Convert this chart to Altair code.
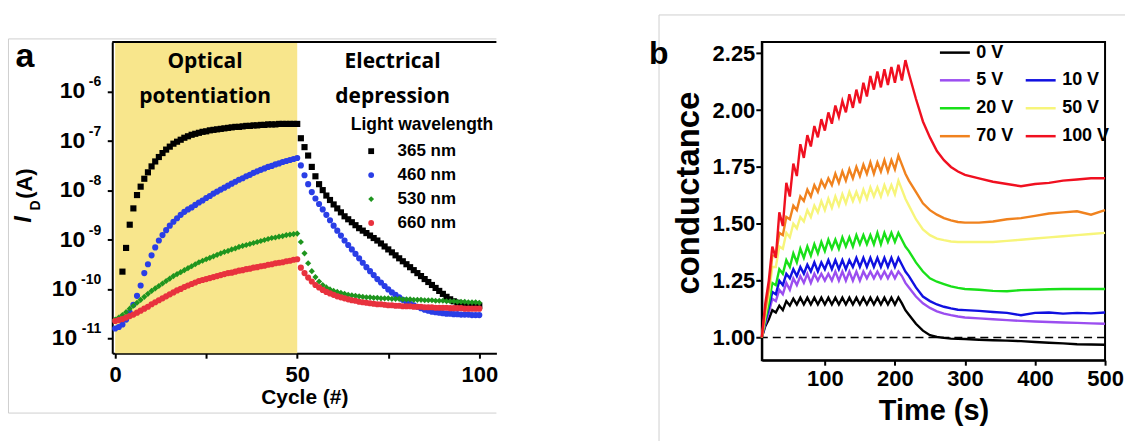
import altair as alt
import pandas as pd

# ---------------- panel a : I_D (log10 A) vs cycle ----------------
cycles = list(range(0, 101))
cycles_365 = list(range(2, 101))

log_365 = [-9.65, -9.17, -8.70, -8.37, -8.10, -7.93, -7.77, -7.64, -7.52, -7.42,
           -7.33, -7.25, -7.18, -7.12, -7.06, -7.02, -6.98, -6.94, -6.91, -6.88,
           -6.86, -6.84, -6.82, -6.81, -6.79, -6.78, -6.77, -6.76, -6.75, -6.74,
           -6.73, -6.72, -6.72, -6.71, -6.70, -6.70, -6.69, -6.69, -6.68, -6.68,
           -6.67, -6.67, -6.67, -6.66, -6.66, -6.66, -6.66, -6.66, -6.66,
           -6.95, -7.13, -7.30, -7.53, -7.72, -7.88, -8.00, -8.11, -8.20, -8.29,
           -8.37, -8.45, -8.53, -8.59, -8.65, -8.71, -8.77, -8.82, -8.87, -8.92,
           -8.97, -9.02, -9.08, -9.14, -9.20, -9.26, -9.32, -9.38, -9.44, -9.50,
           -9.56, -9.62, -9.68, -9.74, -9.80, -9.86, -9.92, -9.98, -10.04, -10.10,
           -10.16, -10.21, -10.25, -10.28, -10.30, -10.31, -10.32, -10.33, -10.33, -10.34]

log_460 = [-10.80, -10.77, -10.72, -10.62, -10.48, -10.32, -10.14, -9.93, -9.68, -9.50,
           -9.32, -9.16, -9.02, -8.91, -8.81, -8.72, -8.64, -8.57, -8.50, -8.44,
           -8.39, -8.35, -8.30, -8.25, -8.21, -8.16, -8.12, -8.07, -8.03, -7.99,
           -7.95, -7.91, -7.87, -7.83, -7.79, -7.76, -7.72, -7.69, -7.65, -7.62,
           -7.59, -7.56, -7.53, -7.51, -7.48, -7.46, -7.43, -7.41, -7.39, -7.37,
           -7.35,
           -7.50, -7.70, -7.88, -8.04, -8.17, -8.28, -8.39, -8.50, -8.61, -8.72,
           -8.82, -8.92, -9.02, -9.11, -9.20, -9.29, -9.38, -9.47, -9.56, -9.64,
           -9.72, -9.80, -9.87, -9.94, -10.01, -10.07, -10.12, -10.17, -10.22, -10.26,
           -10.30, -10.33, -10.36, -10.39, -10.42, -10.44, -10.46, -10.47, -10.48, -10.49,
           -10.50, -10.50, -10.51, -10.51, -10.52, -10.52, -10.52, -10.53, -10.53, -10.53]

log_530 = [-10.62, -10.58, -10.53, -10.47, -10.40, -10.34, -10.28, -10.22, -10.16, -10.10,
           -10.04, -9.99, -9.94, -9.89, -9.84, -9.79, -9.74, -9.70, -9.66, -9.62,
           -9.58, -9.54, -9.50, -9.46, -9.43, -9.40, -9.37, -9.34, -9.31, -9.28,
           -9.25, -9.23, -9.20, -9.18, -9.15, -9.13, -9.11, -9.09, -9.07, -9.05,
           -9.03, -9.01, -8.99, -8.97, -8.96, -8.94, -8.93, -8.91, -8.90, -8.89,
           -8.88,
           -9.05, -9.28, -9.48, -9.64, -9.76, -9.85, -9.92, -9.97, -10.01, -10.04,
           -10.06, -10.08, -10.10, -10.12, -10.13, -10.14, -10.15, -10.16, -10.17, -10.17,
           -10.18, -10.18, -10.19, -10.19, -10.19, -10.20, -10.20, -10.20, -10.21, -10.21,
           -10.21, -10.22, -10.22, -10.22, -10.23, -10.23, -10.23, -10.24, -10.24, -10.24,
           -10.25, -10.25, -10.25, -10.26, -10.26, -10.26, -10.27, -10.27, -10.27, -10.28]

log_660 = [-10.65, -10.63, -10.61, -10.58, -10.55, -10.52, -10.48, -10.44, -10.40, -10.36,
           -10.31, -10.27, -10.23, -10.19, -10.15, -10.11, -10.07, -10.03, -10.00, -9.96,
           -9.93, -9.90, -9.87, -9.84, -9.82, -9.80, -9.78, -9.76, -9.74, -9.72,
           -9.70, -9.68, -9.67, -9.65, -9.63, -9.62, -9.60, -9.59, -9.57, -9.56,
           -9.54, -9.53, -9.51, -9.50, -9.48, -9.47, -9.46, -9.44, -9.43, -9.41,
           -9.40,
           -9.57, -9.68, -9.77, -9.85, -9.92, -9.97, -10.02, -10.06, -10.09, -10.12,
           -10.15, -10.17, -10.19, -10.21, -10.23, -10.24, -10.26, -10.27, -10.28, -10.29,
           -10.30, -10.31, -10.31, -10.32, -10.33, -10.33, -10.34, -10.34, -10.35, -10.35,
           -10.35, -10.36, -10.36, -10.36, -10.37, -10.37, -10.37, -10.38, -10.38, -10.38,
           -10.38, -10.39, -10.39, -10.39, -10.39, -10.40, -10.40, -10.40, -10.40, -10.40]

assert len(log_365) == len(cycles_365)
assert len(log_460) == len(cycles) and len(log_530) == len(cycles) and len(log_660) == len(cycles)

wavelengths = ["365 nm", "460 nm", "530 nm", "660 nm"]
wl_colors = ["#000000", "#2a3ee6", "#1e951e", "#e8323e"]
wl_shapes = ["square", "circle", "diamond", "circle"]

phase_start = [0]
phase_end = [50]
tick_exponents = [-11, -10, -9, -8, -7, -6]

# ---------------- panel b : conductance vs time ----------------
rise_t = [10, 15, 20, 25, 30, 35, 40, 45, 50, 55, 60, 65, 70, 75, 80, 85, 90, 95, 100, 105,
          110, 115, 120, 125, 130, 135, 140, 145, 150, 155, 160, 165, 170, 175, 180, 185, 190,
          195, 200, 205, 210, 215]
decay_t = [220, 230, 240, 250, 260, 270, 280, 290, 300, 320, 340, 360, 380, 400, 420, 440,
           460, 480, 500]
time_s = rise_t + decay_t

g_0V = [1.00, 1.05, 1.08, 1.12, 1.11, 1.14, 1.12, 1.16, 1.14, 1.17, 1.145, 1.175, 1.145, 1.175,
        1.145, 1.175, 1.145, 1.175, 1.145, 1.175, 1.145, 1.175, 1.145, 1.175, 1.145, 1.175,
        1.145, 1.175, 1.145, 1.175, 1.145, 1.175, 1.145, 1.175, 1.145, 1.175, 1.145, 1.175,
        1.145, 1.176, 1.15, 1.12,
        1.10, 1.06, 1.03, 1.01, 1.002, 0.998, 0.995, 0.994, 0.993, 0.99, 0.988, 0.986, 0.984,
        0.98, 0.977, 0.974, 0.97, 0.969, 0.968]
g_5V = [1.00, 1.06, 1.11, 1.17, 1.16, 1.21, 1.19, 1.24, 1.21, 1.26, 1.23, 1.27, 1.24, 1.28,
        1.24, 1.28, 1.25, 1.28, 1.25, 1.28, 1.25, 1.29, 1.25, 1.29, 1.25, 1.29, 1.25, 1.29,
        1.25, 1.29, 1.26, 1.29, 1.26, 1.29, 1.26, 1.29, 1.26, 1.29, 1.26, 1.29, 1.27, 1.24,
        1.22, 1.18, 1.15, 1.13, 1.115, 1.105, 1.098, 1.092, 1.088, 1.084, 1.08, 1.076, 1.073,
        1.07, 1.068, 1.066, 1.064, 1.062, 1.06]
g_10V = [1.00, 1.07, 1.13, 1.20, 1.19, 1.25, 1.23, 1.28, 1.26, 1.30, 1.27, 1.31, 1.28, 1.32,
         1.29, 1.33, 1.29, 1.33, 1.30, 1.34, 1.30, 1.34, 1.30, 1.34, 1.30, 1.34, 1.31, 1.35,
         1.31, 1.35, 1.31, 1.35, 1.31, 1.35, 1.31, 1.35, 1.31, 1.35, 1.31, 1.35, 1.32, 1.29,
         1.27, 1.22, 1.18, 1.16, 1.145, 1.135, 1.128, 1.122, 1.12, 1.117, 1.112, 1.108, 1.098,
         1.108, 1.11, 1.105, 1.108, 1.106, 1.11]
g_20V = [1.00, 1.08, 1.15, 1.24, 1.23, 1.30, 1.28, 1.34, 1.31, 1.37, 1.33, 1.39, 1.35, 1.40,
         1.36, 1.41, 1.37, 1.42, 1.38, 1.43, 1.39, 1.43, 1.39, 1.44, 1.40, 1.44, 1.40, 1.45,
         1.41, 1.45, 1.41, 1.45, 1.41, 1.46, 1.41, 1.46, 1.42, 1.46, 1.42, 1.46, 1.43, 1.40,
         1.38, 1.33, 1.29, 1.26, 1.245, 1.235, 1.225, 1.218, 1.213, 1.21, 1.205, 1.203, 1.208,
         1.21, 1.212, 1.213, 1.213, 1.213, 1.213]
g_50V = [1.00, 1.10, 1.19, 1.31, 1.31, 1.40, 1.39, 1.46, 1.44, 1.50, 1.48, 1.53, 1.51, 1.56,
         1.53, 1.58, 1.55, 1.60, 1.56, 1.61, 1.57, 1.62, 1.58, 1.63, 1.59, 1.64, 1.60, 1.64,
         1.60, 1.65, 1.61, 1.66, 1.62, 1.66, 1.62, 1.67, 1.63, 1.67, 1.63, 1.69, 1.65, 1.61,
         1.58, 1.52, 1.475, 1.45, 1.435, 1.428, 1.422, 1.42, 1.42, 1.42, 1.42, 1.425, 1.43,
         1.435, 1.44, 1.445, 1.45, 1.455, 1.46]
g_70V = [1.00, 1.12, 1.22, 1.36, 1.36, 1.46, 1.45, 1.53, 1.52, 1.58, 1.56, 1.62, 1.60, 1.65,
         1.62, 1.67, 1.64, 1.69, 1.66, 1.70, 1.67, 1.72, 1.68, 1.73, 1.69, 1.74, 1.70, 1.75,
         1.71, 1.76, 1.72, 1.77, 1.72, 1.77, 1.73, 1.78, 1.73, 1.78, 1.74, 1.80, 1.76, 1.72,
         1.69, 1.64, 1.59, 1.56, 1.54, 1.525, 1.515, 1.508, 1.505, 1.505, 1.51, 1.52, 1.525,
         1.535, 1.545, 1.55, 1.555, 1.54, 1.56]
g_100V = [1.00, 1.15, 1.25, 1.40, 1.35, 1.55, 1.49, 1.68, 1.62, 1.765, 1.71, 1.85, 1.79, 1.89,
          1.84, 1.93, 1.88, 1.96, 1.91, 1.99, 1.94, 2.02, 1.97, 2.04, 1.99, 2.07, 2.01, 2.09,
          2.03, 2.12, 2.06, 2.15, 2.09, 2.17, 2.10, 2.18, 2.11, 2.19, 2.12, 2.20, 2.13, 2.22,
          2.16, 2.05, 1.95, 1.88, 1.82, 1.78, 1.75, 1.73, 1.715, 1.70, 1.685, 1.675, 1.665,
          1.675, 1.68, 1.69, 1.695, 1.70, 1.70]

voltages = ["0 V", "5 V", "10 V", "20 V", "50 V", "70 V", "100 V"]
series_b = [g_0V, g_5V, g_10V, g_20V, g_50V, g_70V, g_100V]
for s in series_b:
    assert len(s) == len(time_s), len(s)
# legend is filled column by column: left column 0,5,20,70 V ; right column (blank),10,50,100 V
legend_domain = ["0 V", "5 V", "20 V", "70 V", " ", "10 V", "50 V", "100 V"]
legend_range = ["#000000", "#9b4ef0", "#19e019", "#f0821e", "#ffffff", "#1010e0", "#f7f57a",
                "#f01020"]
reference_level = [1.0]

# ---------------- data frames ----------------
rows = []
for name, cyc, logs in [("365 nm", cycles_365, log_365), ("460 nm", cycles, log_460),
                        ("530 nm", cycles, log_530), ("660 nm", cycles, log_660)]:
    for c, v in zip(cyc, logs):
        rows.append({"cycle": c, "current": 10 ** v, "wl": name})
df_a = pd.DataFrame(rows)
phase_df = pd.DataFrame({"start": phase_start, "end": phase_end})
ticks_df = pd.DataFrame({"value": [10.0 ** e for e in tick_exponents],
                         "sup": [str(e) for e in tick_exponents],
                         "ndig": [len(str(abs(e))) for e in tick_exponents]})

rows_b = []
for name, vals in zip(voltages, series_b):
    for t, g in zip(time_s, vals):
        rows_b.append({"time": t, "g": g, "V": name})
df_b = pd.DataFrame(rows_b)
ref_df = pd.DataFrame({"level": reference_level})
one_df = pd.DataFrame({"k": [0]})

FONT = "Liberation Sans"
PHASE_FONT = "Open Sans"
FRAME_GREY = "#cfcfcf"

# ---------------- panel a chart ----------------
A_W, A_H = 385, 312
xa = alt.Scale(domain=[-0.8, 104.7], nice=False, zero=False)
ya = alt.Scale(type="log", domain=[5e-12, 1e-5], nice=False)

ax_a_x = alt.Axis(values=[0, 25, 50, 75, 100],
                  labelExpr="datum.value % 50 == 0 ? datum.label : ''",
                  title="Cycle (#)", titleFontSize=21, labelFontSize=22,
                  tickSize=5, tickWidth=2, domainWidth=2, labelPadding=6,
                  titleY=44, titleBaseline="middle", labelFlush=False, grid=False)
ax_a_y = alt.Axis(values=[1e-11, 1e-10, 1e-9, 1e-8, 1e-7, 1e-6], labels=False,
                  title=None, tickSize=5, tickWidth=2, domainWidth=2, grid=False)

shade = alt.Chart(phase_df).mark_rect(color="#f8e68c").encode(
    x=alt.X("start:Q", scale=xa, axis=ax_a_x), x2="end:Q",
    y=alt.value(0), y2=alt.value(A_H))

top_border = alt.Chart(one_df).mark_rule(color="black", strokeWidth=2).encode(
    x=alt.value(0), x2=alt.value(A_W), y=alt.value(0))

# light grey frame of the original figure panel
grey_a = [
    alt.Chart(one_df).mark_rule(color=FRAME_GREY, strokeWidth=1).encode(
        x=alt.value(-104), y=alt.value(-3), y2=alt.value(372)),
    alt.Chart(one_df).mark_rule(color=FRAME_GREY, strokeWidth=1).encode(
        x=alt.value(-104), x2=alt.value(A_W), y=alt.value(-3)),
    alt.Chart(one_df).mark_rule(color=FRAME_GREY, strokeWidth=1).encode(
        x=alt.value(-104), x2=alt.value(A_W), y=alt.value(372)),
]

leg_a = alt.Legend(title=None, orient="none", legendX=251, legendY=101, padding=0,
                   labelFont=FONT, labelFontSize=17, labelFontWeight="bold",
                   labelColor="black", symbolSize=34, rowPadding=6, labelOffset=18)

points = alt.Chart(df_a).mark_point(filled=True, size=38, opacity=1).encode(
    x=alt.X("cycle:Q", scale=xa, axis=ax_a_x),
    y=alt.Y("current:Q", scale=ya, axis=ax_a_y),
    color=alt.Color("wl:N", scale=alt.Scale(domain=wavelengths, range=wl_colors), legend=leg_a),
    shape=alt.Shape("wl:N", scale=alt.Scale(domain=wavelengths, range=wl_shapes), legend=leg_a),
)

# y tick labels "10" with superscript exponent
tick_tens_1 = alt.Chart(ticks_df).transform_filter("datum.ndig == 1").mark_text(
    font=FONT, fontSize=23, fontWeight="bold", align="right", baseline="middle",
    color="black").encode(text=alt.value("10"), x=alt.value(-27),
                          y=alt.Y("value:Q", scale=ya, axis=ax_a_y))
tick_tens_2 = alt.Chart(ticks_df).transform_filter("datum.ndig == 2").mark_text(
    font=FONT, fontSize=23, fontWeight="bold", align="right", baseline="middle",
    color="black").encode(text=alt.value("10"), x=alt.value(-35),
                          y=alt.Y("value:Q", scale=ya, axis=ax_a_y))
tick_sup = alt.Chart(ticks_df).mark_text(
    font=FONT, fontSize=14, fontWeight="bold", align="right", baseline="middle",
    dy=-9, color="black").encode(text="sup:N", x=alt.value(-11),
                                 y=alt.Y("value:Q", scale=ya, axis=ax_a_y))


def label(text, x, y, size, font=FONT, align="center", baseline="alphabetic",
          angle=0, style="normal", weight="bold"):
    return alt.Chart(pd.DataFrame({"t": [text]})).mark_text(
        font=font, fontSize=size, fontWeight=weight, fontStyle=style, align=align,
        baseline=baseline, angle=angle, color="black").encode(
        text="t:N", x=alt.value(x), y=alt.value(y))


texts_a = [
    label("Optical", 93, 26, 21, font=PHASE_FONT),
    label("potentiation", 93, 61, 21, font=PHASE_FONT),
    label("Electrical", 281, 26, 21, font=PHASE_FONT),
    label("depression", 281, 61, 21, font=PHASE_FONT),
    label("Light wavelength", 239, 88, 17.5, align="left"),
    label("a", -97, 25, 34, align="left"),
    label("(A)", -87, 142, 22, baseline="middle", angle=270),
    label("I", -88, 178, 24, baseline="middle", angle=270, style="italic"),
    label("D", -76, 164, 14, baseline="middle", angle=270),
]

panel_a = alt.layer(*grey_a, shade, top_border, points, tick_tens_1, tick_tens_2, tick_sup,
                    *texts_a).properties(width=A_W, height=A_H)

# ---------------- panel b chart ----------------
B_W, B_H = 344, 319
xb = alt.Scale(domain=[10, 500], nice=False, zero=False)
yb = alt.Scale(domain=[0.9, 2.3], nice=False, zero=False)

ax_b_x = alt.Axis(values=[100, 200, 300, 400, 500], title="Time (s)", titleFontSize=29,
                  labelFontSize=22, tickSize=5, tickWidth=2, domainWidth=2, labelPadding=3,
                  titleY=50, titleBaseline="middle", labelFlush=False, grid=False)
ax_b_y = alt.Axis(values=[1.0, 1.25, 1.5, 1.75, 2.0, 2.25], format=".2f", title="conductance",
                  titleFontSize=33, labelFontSize=22, tickSize=6, tickWidth=2, domainWidth=2,
                  labelPadding=1, titleX=-73, titleY=151, titleBaseline="middle",
                  titleAngle=270, grid=False)

leg_b = alt.Legend(title=None, orient="none", legendX=177, legendY=-6, padding=0, columns=2,
                   symbolType="stroke", symbolSize=900, symbolStrokeWidth=2.5,
                   labelFont=FONT, labelFontSize=18, labelFontWeight="bold",
                   labelColor="black", labelOffset=5, rowPadding=2, columnPadding=6)

dash = alt.Chart(ref_df).mark_rule(color="black", strokeDash=[8, 5], strokeWidth=1.5).encode(
    y=alt.Y("level:Q", scale=yb, axis=ax_b_y))

lines = alt.Chart(df_b).mark_line(strokeWidth=2.4).encode(
    x=alt.X("time:Q", scale=xb, axis=ax_b_x),
    y=alt.Y("g:Q", scale=yb, axis=ax_b_y),
    color=alt.Color("V:N", scale=alt.Scale(domain=legend_domain, range=legend_range),
                    legend=leg_b, sort=legend_domain),
)

grey_b = [
    alt.Chart(one_df).mark_rule(color=FRAME_GREY, strokeWidth=1).encode(
        x=alt.value(-103), x2=alt.value(364), y=alt.value(-27)),
    alt.Chart(one_df).mark_rule(color=FRAME_GREY, strokeWidth=1).encode(
        x=alt.value(-103), y=alt.value(-27), y2=alt.value(401)),
]

panel_b = alt.layer(*grey_b, dash, lines, label("b", -113, 22, 32, align="left")).properties(
    width=B_W, height=B_H,
    view=alt.ViewBackground(stroke="black", strokeWidth=2, strokeOpacity=1))

chart = alt.hconcat(panel_a, panel_b, spacing=266, bounds="flush").resolve_scale(
    color="independent", shape="independent").resolve_legend(
    color="independent", shape="independent").properties(
    padding={"left": 7.5, "top": 12.5, "right": 0, "bottom": 0}, background="white"
).configure_view(strokeOpacity=0).configure_axis(
    labelFont=FONT, labelFontWeight="bold", labelColor="black", titleFont=FONT,
    titleFontWeight="bold", titleColor="black", domainColor="black", tickColor="black")

chart.save("out.html", embed_options={"renderer": "svg", "actions": False})
